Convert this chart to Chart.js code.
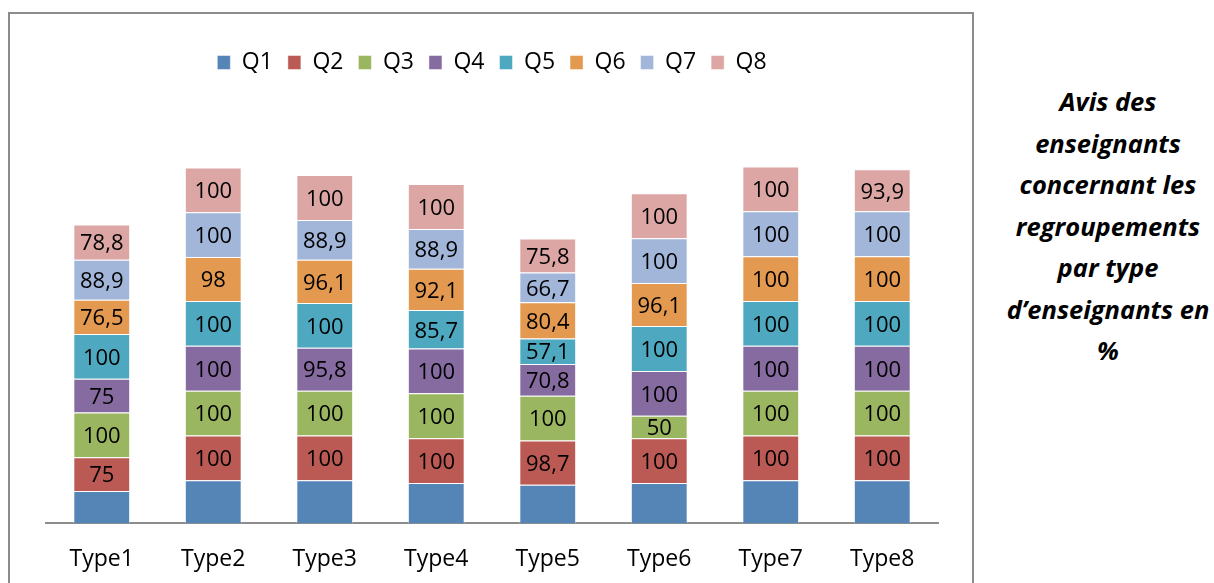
<!DOCTYPE html>
<html>
<head>
<meta charset="utf-8">
<script src="https://cdn.jsdelivr.net/npm/chart.js@4.4.1/dist/chart.umd.min.js"></script>
<style>
    body { margin: 0; background: #fff; width: 1214px; height: 583px; overflow: hidden; position: relative; }
    #box { position: absolute; left: 8px; top: 12px; width: 962px; height: 620px; border: 2px solid #8c8c8c; }
    #chart-wrap { position: absolute; left: 0; top: 0; width: 962px; height: 583px; }
    #titre {
        position: absolute; left: 990px; top: 81px; width: 236px;
        font-family: "Open Sans", sans-serif; font-weight: bold; font-style: italic;
        font-size: 25.5px; line-height: 41.5px; text-align: center; color: #000;
    }
</style>
</head>
<body>
<div id="box">
    <div id="chart-wrap"><canvas id="avisChart"></canvas></div>
</div>
<div id="titre">Avis des<br>enseignants<br>concernant les<br>regroupements<br>par type<br>d’enseignants en<br>%</div>
<script>
const categories = ['Type1', 'Type2', 'Type3', 'Type4', 'Type5', 'Type6', 'Type7', 'Type8'];
const seriesNames = ['Q1', 'Q2', 'Q3', 'Q4', 'Q5', 'Q6', 'Q7', 'Q8'];
// Q1 n'a pas d'étiquette dans l'original : valeurs estimées
const q1 = [72.5, 96, 96, 90, 86, 90, 96, 96];
const q2 = [75, 100, 100, 100, 98.7, 100, 100, 100];
const q3 = [100, 100, 100, 100, 100, 50, 100, 100];
const q4 = [75, 100, 95.8, 100, 70.8, 100, 100, 100];
const q5 = [100, 100, 100, 85.7, 57.1, 100, 100, 100];
const q6 = [76.5, 98, 96.1, 92.1, 80.4, 96.1, 100, 100];
const q7 = [88.9, 100, 88.9, 88.9, 66.7, 100, 100, 100];
const q8 = [78.8, 100, 100, 100, 75.8, 100, 100, 93.9];
const colors = ['#5584B7', '#BB5A55', '#9BB660', '#856BA0', '#4EA8BF', '#E39950', '#A2B6D9', '#DCA6A4'];

const allSeries = [q1, q2, q3, q4, q5, q6, q7, q8];
const FONT = '"Open Sans", sans-serif';

// Étiquettes au centre de chaque segment (sauf Q1)
const labelPlugin = {
    id: 'segLabels',
    afterDatasetsDraw(chart) {
        const ctx = chart.ctx;
        ctx.save();
        ctx.font = '22px ' + FONT;
        ctx.fillStyle = '#000';
        ctx.textAlign = 'center';
        ctx.textBaseline = 'middle';
        chart.data.datasets.forEach((ds, i) => {
            if (i === 0) return;
            const meta = chart.getDatasetMeta(i);
            meta.data.forEach((bar, j) => {
                const v = ds.data[j];
                const y = (bar.y + bar.base) / 2 + 2;
                ctx.fillText(String(v).replace('.', ','), bar.x, y);
            });
        });
        ctx.restore();
    }
};

new Chart(document.getElementById('avisChart'), {
    type: 'bar',
    data: {
        labels: categories,
        datasets: allSeries.map((d, i) => ({
            label: seriesNames[i],
            data: d,
            backgroundColor: colors[i],
            borderColor: 'rgba(255,255,255,0.45)',
            borderWidth: 1,
            categoryPercentage: 1,
            barPercentage: 0.51
        }))
    },
    options: {
        responsive: true,
        maintainAspectRatio: false,
        animation: false,
        layout: {padding: {left: 36, right: 34, top: 22, bottom: 10}},
        scales: {
            x: {
                stacked: true,
                grid: {display: false},
                border: {color: '#8c8c8c', width: 2},
                ticks: {color: '#000', font: {family: FONT, size: 23}, padding: 14}
            },
            y: {stacked: true, display: false, min: 0, max: 980}
        },
        plugins: {
            legend: {
                position: 'top',
                labels: {
                    color: '#000',
                    font: {family: FONT, size: 23},
                    boxWidth: 13, boxHeight: 14,
                    padding: 15
                }
            },
            tooltip: {enabled: false}
        }
    },
    plugins: [labelPlugin]
});
</script>
</body>
</html>
